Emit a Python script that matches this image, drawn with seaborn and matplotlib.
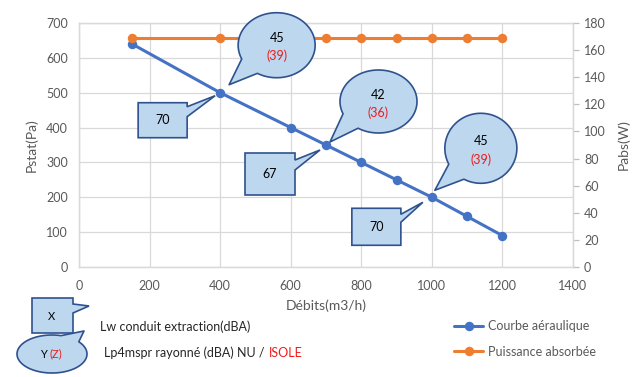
import numpy as np
import pandas as pd
import matplotlib
matplotlib.use("Agg")
import matplotlib.pyplot as plt
import seaborn as sns
from matplotlib.patches import Polygon
from matplotlib.transforms import ScaledTranslation
from matplotlib.lines import Line2D

# ---------------- data ----------------
debits = [150, 400, 600, 700, 800, 900, 1000, 1100, 1200]
pstat = [640, 500, 400, 350, 300, 250, 200, 145, 90]
pabs = [169, 169, 169, 169, 169, 169, 169, 169, 169]

callout_debits = [400, 700, 1000]
lw_values = ["70", "67", "70"]
lp_nu = ["45", "42", "45"]
lp_isole = ["(39)", "(36)", "(39)"]

series_labels = ["Courbe aéraulique", "Puissance absorbée"]
x_ticks = [0, 200, 400, 600, 800, 1000, 1200, 1400]
y_ticks = [0, 100, 200, 300, 400, 500, 600, 700]
y2_ticks = [0, 20, 40, 60, 80, 100, 120, 140, 160, 180]

# ---------------- style ----------------
BLUE = "#4472C4"
ORANGE = "#ED7D31"
FACE = "#BDD7EE"
EDGE = "#2F528F"
RED = "#F01A1A"
GRAY_TXT = "#595959"
GRID = "#D9D9D9"

sns.set_theme(style="white")
plt.rcParams["font.family"] = ["Lato", "DejaVu Sans"]

W, H = 643, 377
fig = plt.figure(figsize=(W / 100, H / 100), dpi=100)
ax = fig.add_axes([79 / W, 1 - 267 / H, (573 - 79) / W, (267 - 23) / H])
ax2 = ax.twinx()

df = pd.DataFrame({"debit": debits, "pstat": pstat, "pabs": pabs})
sns.lineplot(data=df, x="debit", y="pstat", ax=ax, color=BLUE, marker="o",
             markersize=6.8, markeredgewidth=0, linewidth=2.2, legend=False)
sns.lineplot(data=df, x="debit", y="pabs", ax=ax2, color=ORANGE, marker="o",
             markersize=6.8, markeredgewidth=0, linewidth=2.2, legend=False)

ax.set_xlim(0, 1400)
ax.set_ylim(0, 700)
ax2.set_ylim(0, 180)
ax.set_xticks(x_ticks)
ax.set_yticks(y_ticks)
ax2.set_yticks(y2_ticks)
ax.grid(True, color=GRID, linewidth=0.9)
ax2.grid(False)
ax.set_axisbelow(True)
for a in (ax, ax2):
    for s in a.spines.values():
        s.set_color(GRID)
        s.set_linewidth(0.9)

ax.tick_params(axis="both", length=0, labelsize=9, labelcolor=GRAY_TXT)
ax.tick_params(axis="x", pad=9)
ax.tick_params(axis="y", pad=8)
ax2.tick_params(axis="y", length=4, width=0.9, color="#BFBFBF", labelsize=9,
                labelcolor=GRAY_TXT, pad=4)

ax.set_xlabel("Débits(m3/h)", fontsize=10, color=GRAY_TXT, labelpad=6)
ax.set_ylabel("Pstat(Pa)", fontsize=10, color=GRAY_TXT, labelpad=6)
ax2.set_ylabel("Pabs(W)", fontsize=10, color=GRAY_TXT, labelpad=8)

# ---------------- callouts anchored on data points ----------------
P = 0.01  # px -> inches (dpi 100)


def anchored(x, y):
    return fig.dpi_scale_trans + ScaledTranslation(x, y, ax.transData)


def ellipse_pts(cx, cy, a, b, t1, t2, tip):
    th = np.radians(np.linspace(t2, t1 + 360, 140))
    pts = np.column_stack([cx + a * np.cos(th), cy + b * np.sin(th)])
    return np.vstack([pts, tip])


def rect_pts(l, r, bot, top, y1, y2, tip):
    return np.array([(l, top), (r, top), (r, y1), tip, (r, y2), (r, bot), (l, bot)])


ELL = [
    dict(cx=56.5, cy=47.5, a=38.5, b=32.5, t1=205, t2=240, tip=(9, 8)),
    dict(cx=52.5, cy=43.5, a=38.5, b=31.5, t1=203, t2=238, tip=(4, 3)),
    dict(cx=49.0, cy=49.0, a=36.0, b=35.0, t1=207, t2=242, tip=(3, 7)),
]
RECT = [
    dict(l=-82, r=-33, top=-10, bot=-45, y1=-14, y2=-24, tip=(-5, -3)),
    dict(l=-81, r=-31, top=-8, bot=-50, y1=-15, y2=-25, tip=(-6, -5)),
    dict(l=-80, r=-31, top=-11, bot=-48, y1=-17, y2=-25, tip=(-9, -5)),
]

lookup = dict(zip(debits, pstat))
for i, xd in enumerate(callout_debits):
    T = anchored(xd, lookup[xd])
    e = ELL[i]
    pe = ellipse_pts(e["cx"], e["cy"], e["a"], e["b"], e["t1"], e["t2"], e["tip"])
    ax2.add_patch(Polygon(pe * P, closed=True, transform=T, facecolor=FACE,
                          edgecolor=EDGE, linewidth=1.2, joinstyle="round",
                          zorder=5, clip_on=False))
    ax2.text(e["cx"] * P, (e["cy"] + 7) * P, lp_nu[i], transform=T, ha="center",
             va="center", fontsize=9, color="black", zorder=6, clip_on=False)
    ax2.text(e["cx"] * P, (e["cy"] - 11) * P, lp_isole[i], transform=T, ha="center",
             va="center", fontsize=9, color=RED, zorder=6, clip_on=False)

    r = RECT[i]
    pr = rect_pts(r["l"], r["r"], r["bot"], r["top"], r["y1"], r["y2"], r["tip"])
    ax2.add_patch(Polygon(pr * P, closed=True, transform=T, facecolor=FACE,
                          edgecolor=EDGE, linewidth=1.2, joinstyle="miter",
                          zorder=5, clip_on=False))
    ax2.text((r["l"] + r["r"]) / 2 * P, (r["top"] + r["bot"]) / 2 * P, lw_values[i],
             transform=T, ha="center", va="center", fontsize=9, color="black",
             zorder=6, clip_on=False)

# ---------------- key callouts (bottom-left, figure pixels) ----------------
FT = fig.dpi_scale_trans


def fp(pts):
    pts = np.asarray(pts, dtype=float)
    return np.column_stack([pts[:, 0] * P, (H - pts[:, 1]) * P])


key_rect = rect_pts(32, 73, 333, 298, 304, 313, (89, 306))
fig.add_artist(Polygon(fp(key_rect), closed=True, transform=FT, facecolor=FACE,
                       edgecolor=EDGE, linewidth=1.2, joinstyle="miter", zorder=5))
th = np.radians(np.linspace(75, 40 + 360, 140))
key_ell = np.column_stack([52 + 35 * np.cos(th), 354 - 19 * np.sin(th)])
key_ell = np.vstack([key_ell, (84, 331)])
fig.add_artist(Polygon(fp(key_ell), closed=True, transform=FT, facecolor=FACE,
                       edgecolor=EDGE, linewidth=1.2, joinstyle="round", zorder=5))

fig.text(52 / W, 1 - 316 / H, "X", ha="center", va="center", fontsize=8,
         color="black", zorder=6)
fig.text(47 / W, 1 - 354 / H, "Y", ha="right", va="center", fontsize=8,
         color="black", zorder=6)
fig.text(50 / W, 1 - 354 / H, "(Z)", ha="left", va="center", fontsize=8,
         color=RED, zorder=6)

fig.text(100 / W, 1 - 327 / H, "Lw conduit extraction(dBA)", ha="left", va="center",
         fontsize=9, color="#262626")
t_lp = fig.text(104 / W, 1 - 353 / H, "Lp4mspr rayonné (dBA) NU /", ha="left",
                va="center", fontsize=9, color="#262626")
fig.add_artist(matplotlib.text.Annotation("ISOLE", xy=(1, 0), xycoords=t_lp,
                                          xytext=(3, 0), textcoords="offset points",
                                          ha="left", va="bottom", fontsize=9, color=RED))

# ---------------- legend ----------------
handles = [
    Line2D([], [], color=BLUE, marker="o", markersize=6.8, markeredgewidth=0, linewidth=2.2),
    Line2D([], [], color=ORANGE, marker="o", markersize=6.8, markeredgewidth=0, linewidth=2.2),
]
fig.legend(handles, series_labels, loc="center left",
           bbox_to_anchor=(448 / W, 1 - 339 / H), frameon=False, borderpad=0,
           handlelength=2.3, handletextpad=0.4, labelspacing=1.05, fontsize=9,
           labelcolor=GRAY_TXT)

fig.savefig("out.png", dpi=100)
